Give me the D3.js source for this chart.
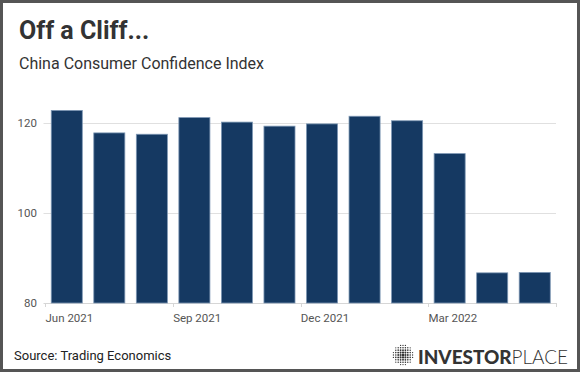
<!DOCTYPE html>
<html>
<head>
<meta charset="utf-8">
<script src="https://cdn.jsdelivr.net/npm/d3@7"></script>
<style>
  body { margin: 0; background: #fff; }
  svg { display: block; font-family: Roboto, "Noto Sans", sans-serif; }
</style>
</head>
<body>
<div id="chart"></div>
<script>
// chart data
var months = ['Jun 2021', 'Jul 2021', 'Aug 2021', 'Sep 2021', 'Oct 2021', 'Nov 2021',
              'Dec 2021', 'Jan 2022', 'Feb 2022', 'Mar 2022', 'Apr 2022', 'May 2022'];
var confidence = [122.8, 117.8, 117.5, 121.2, 120.2, 119.3, 119.8, 121.5, 120.5, 113.2, 86.7, 86.8];
var yTicks = [80, 100, 120];
var labelledMonths = ['Jun 2021', 'Sep 2021', 'Dec 2021', 'Mar 2022'];

var width = 580, height = 372;
var plot = { left: 45.5, right: 556, top: 90, bottom: 303 };

var svg = d3.select('#chart').append('svg')
    .attr('width', width)
    .attr('height', height);

svg.append('rect')
    .attr('x', 1.5).attr('y', 1.5)
    .attr('width', width - 3).attr('height', height - 3)
    .attr('fill', '#fff')
    .attr('stroke', '#555')
    .attr('stroke-width', 3);

// titles
svg.append('text')
    .attr('x', 19).attr('y', 39)
    .attr('fill', '#333')
    .attr('font-size', 25)
    .attr('font-weight', 'bold')
    .text('Off a Cliff...');

svg.append('text')
    .attr('x', 19).attr('y', 69)
    .attr('fill', '#333')
    .attr('font-size', 16)
    .text('China Consumer Confidence Index');

var x = d3.scaleBand()
    .domain(months)
    .range([plot.left, plot.right])
    .paddingInner(0.27)
    .paddingOuter(0.135);

var y = d3.scaleLinear()
    .domain([80, 127.3])
    .range([plot.bottom, plot.bottom - 47.3 * 4.5]);

// grid lines
svg.append('g').selectAll('line')
    .data(yTicks)
    .enter().append('line')
    .attr('x1', plot.left - 2).attr('x2', plot.right)
    .attr('y1', function (d) { return Math.round(y(d)) + 0.5; })
    .attr('y2', function (d) { return Math.round(y(d)) + 0.5; })
    .attr('stroke', function (d) { return d === 80 ? '#d6d6d6' : '#e0e0e0'; })
    .attr('stroke-width', 1);

svg.append('g').selectAll('text')
    .data(yTicks)
    .enter().append('text')
    .attr('x', 37)
    .attr('y', function (d) { return y(d) + 4; })
    .attr('text-anchor', 'end')
    .attr('fill', '#555')
    .attr('font-size', 11.5)
    .text(function (d) { return d; });

// bars
svg.append('g').selectAll('rect')
    .data(confidence)
    .enter().append('rect')
    .attr('x', function (d, i) { return x(months[i]); })
    .attr('y', function (d) { return y(d); })
    .attr('width', x.bandwidth())
    .attr('height', function (d) { return y(80) - y(d); })
    .attr('fill', '#153962')
    .attr('stroke', '#7d97b4')
    .attr('stroke-width', 0.8);

// x ticks sit at band boundaries, labels left-aligned
var gap = x.step() * 0.135;
var tickXs = labelledMonths.map(function (m) { return x(m) - gap; });
tickXs.push(plot.right);

svg.append('g').selectAll('line')
    .data(tickXs)
    .enter().append('line')
    .attr('x1', function (d) { return Math.round(d) + 0.5; })
    .attr('x2', function (d) { return Math.round(d) + 0.5; })
    .attr('y1', plot.bottom).attr('y2', plot.bottom + 4)
    .attr('stroke', '#d6d6d6');

svg.append('g').selectAll('text')
    .data(labelledMonths)
    .enter().append('text')
    .attr('x', function (d) { return x(d) - gap; })
    .attr('y', 322)
    .attr('fill', '#555')
    .attr('font-size', 11.5)
    .text(function (d) { return d; });

// footer
svg.append('text')
    .attr('x', 14).attr('y', 360)
    .attr('fill', '#222')
    .attr('font-size', 13)
    .text('Source: Trading Economics');

// logo: dotted globe + wordmark
var globe = svg.append('g').attr('transform', 'translate(403,355)');
var dots = [];
for (var gx = -9.6; gx <= 9.7; gx += 2.4) {
    for (var gy = -9.6; gy <= 9.7; gy += 2.4) {
        var r = Math.sqrt(gx * gx + gy * gy);
        if (r <= 10.2) dots.push({ x: gx, y: gy, r: r });
    }
}
globe.selectAll('circle')
    .data(dots)
    .enter().append('circle')
    .attr('cx', function (d) { return d.x; })
    .attr('cy', function (d) { return d.y; })
    .attr('r', function (d) { return 1.25 - d.r / 16; })
    .attr('fill', '#333');

var logo = svg.append('text')
    .attr('x', 418).attr('y', 364)
    .attr('fill', '#333')
    .attr('font-family', 'Lato, "Open Sans", sans-serif')
    .attr('font-size', 19)
    .attr('textLength', 150)
    .attr('lengthAdjust', 'spacingAndGlyphs');
logo.append('tspan').attr('font-weight', 900).text('INVESTOR');
logo.append('tspan').attr('font-weight', 300).text('PLACE');
</script>
</body>
</html>
